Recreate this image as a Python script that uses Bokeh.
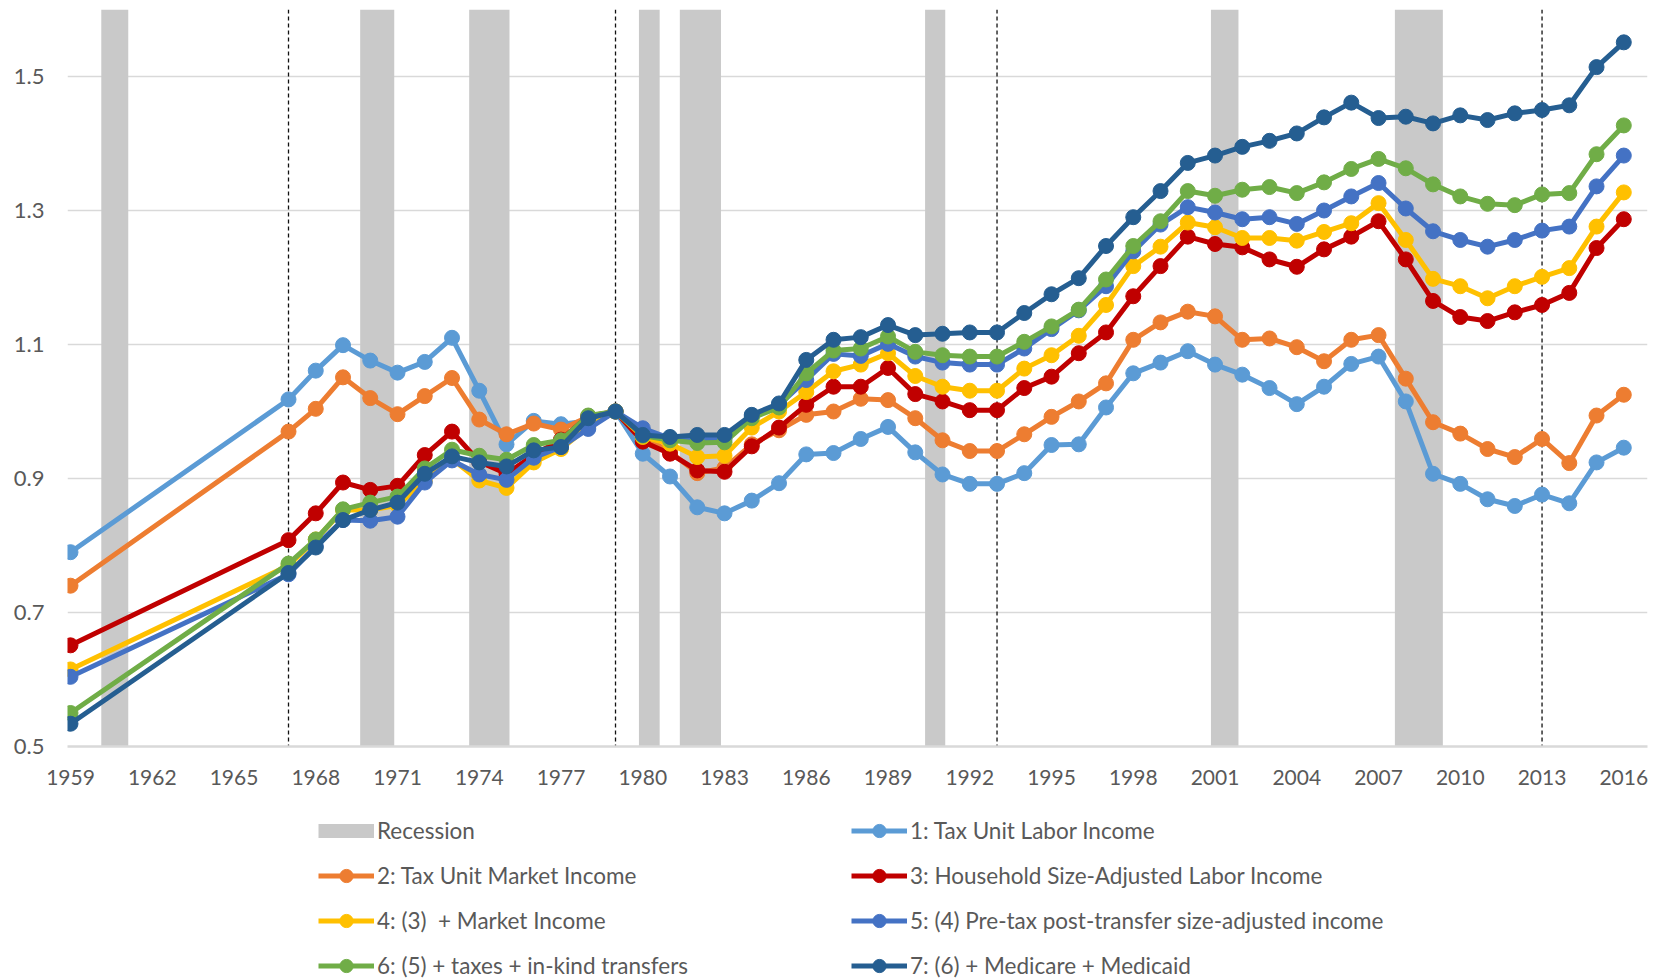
from bokeh.plotting import figure
from bokeh.layouts import column
from bokeh.models import Range1d, FixedTicker, Span, Legend, LegendItem, NumeralTickFormatter
from bokeh.embed import file_html
from bokeh.resources import INLINE

# ---------------- data ----------------
years = [1959, 1967, 1968, 1969, 1970, 1971, 1972, 1973, 1974, 1975, 1976, 1977, 1978,
         1979, 1980, 1981, 1982, 1983, 1984, 1985, 1986, 1987, 1988, 1989, 1990, 1991,
         1992, 1993, 1994, 1995, 1996, 1997, 1998, 1999, 2000, 2001, 2002, 2003, 2004,
         2005, 2006, 2007, 2008, 2009, 2010, 2011, 2012, 2013, 2014, 2015, 2016]

s1_tax_unit_labor = [0.790, 1.018, 1.061, 1.099, 1.076, 1.058, 1.074, 1.110, 1.031, 0.951, 0.986, 0.981, 0.986,
                     1.000, 0.937, 0.903, 0.857, 0.848, 0.867, 0.893, 0.936, 0.938, 0.959, 0.977, 0.939, 0.906,
                     0.892, 0.892, 0.908, 0.950, 0.951, 1.006, 1.057, 1.073, 1.090, 1.070, 1.055, 1.035, 1.011,
                     1.037, 1.071, 1.082, 1.015, 0.907, 0.892, 0.869, 0.859, 0.876, 0.863, 0.924, 0.946]
s2_tax_unit_market = [0.740, 0.970, 1.004, 1.051, 1.020, 0.996, 1.023, 1.050, 0.988, 0.966, 0.982, 0.973, 0.992,
                      1.000, 0.962, 0.940, 0.908, 0.916, 0.951, 0.972, 0.995, 1.000, 1.019, 1.017, 0.990, 0.957,
                      0.941, 0.941, 0.966, 0.992, 1.015, 1.042, 1.107, 1.133, 1.149, 1.142, 1.107, 1.109, 1.096,
                      1.075, 1.107, 1.114, 1.049, 0.984, 0.967, 0.944, 0.932, 0.959, 0.923, 0.994, 1.025]
s3_hh_size_adj_labor = [0.651, 0.808, 0.848, 0.894, 0.883, 0.889, 0.935, 0.970, 0.925, 0.907, 0.935, 0.958, 0.993,
                        1.000, 0.955, 0.937, 0.912, 0.910, 0.948, 0.976, 1.010, 1.037, 1.037, 1.065, 1.026, 1.015,
                        1.002, 1.002, 1.035, 1.052, 1.087, 1.118, 1.172, 1.217, 1.261, 1.250, 1.245, 1.227, 1.216,
                        1.242, 1.261, 1.284, 1.227, 1.165, 1.141, 1.135, 1.148, 1.159, 1.177, 1.244, 1.287]
s4_plus_market = [0.615, 0.770, 0.809, 0.853, 0.853, 0.860, 0.896, 0.929, 0.897, 0.886, 0.924, 0.944, 0.977,
                  1.000, 0.962, 0.952, 0.932, 0.934, 0.976, 1.000, 1.029, 1.060, 1.070, 1.087, 1.053, 1.037,
                  1.031, 1.031, 1.064, 1.084, 1.113, 1.159, 1.217, 1.246, 1.282, 1.275, 1.259, 1.259, 1.255,
                  1.268, 1.281, 1.311, 1.256, 1.198, 1.187, 1.169, 1.187, 1.201, 1.214, 1.276, 1.327]
s5_pretax_post_transfer = [0.604, 0.757, 0.799, 0.838, 0.837, 0.843, 0.894, 0.927, 0.906, 0.898, 0.931, 0.947, 0.974,
                           1.000, 0.975, 0.960, 0.959, 0.959, 0.993, 1.010, 1.047, 1.086, 1.083, 1.101, 1.082, 1.073,
                           1.070, 1.070, 1.094, 1.123, 1.151, 1.187, 1.239, 1.279, 1.305, 1.297, 1.287, 1.290, 1.280,
                           1.300, 1.321, 1.341, 1.303, 1.269, 1.256, 1.246, 1.256, 1.270, 1.276, 1.336, 1.382]
s6_taxes_in_kind = [0.550, 0.773, 0.809, 0.854, 0.864, 0.873, 0.915, 0.943, 0.934, 0.928, 0.950, 0.957, 0.994,
                    1.000, 0.964, 0.957, 0.953, 0.954, 0.990, 1.006, 1.057, 1.091, 1.094, 1.112, 1.089, 1.084,
                    1.082, 1.082, 1.104, 1.127, 1.152, 1.197, 1.247, 1.284, 1.329, 1.322, 1.331, 1.335, 1.326,
                    1.342, 1.362, 1.377, 1.363, 1.339, 1.321, 1.310, 1.308, 1.324, 1.326, 1.384, 1.427]
s7_medicare_medicaid = [0.534, 0.759, 0.797, 0.838, 0.853, 0.864, 0.907, 0.933, 0.924, 0.918, 0.942, 0.947, 0.990,
                        1.000, 0.965, 0.962, 0.965, 0.965, 0.995, 1.012, 1.077, 1.107, 1.111, 1.129, 1.114, 1.116,
                        1.118, 1.118, 1.147, 1.175, 1.199, 1.247, 1.290, 1.329, 1.371, 1.382, 1.395, 1.404, 1.415,
                        1.439, 1.461, 1.438, 1.440, 1.430, 1.442, 1.435, 1.445, 1.450, 1.457, 1.514, 1.551]

series_labels = ["1: Tax Unit Labor Income",
                 "2: Tax Unit Market Income",
                 "3: Household Size-Adjusted Labor Income",
                 "4: (3)  + Market Income",
                 "5: (4) Pre-tax post-transfer size-adjusted income",
                 "6: (5) + taxes + in-kind transfers",
                 "7: (6) + Medicare + Medicaid"]
series_colors = ["#5B9BD5", "#ED7D31", "#C00000", "#FFC000", "#4472C4", "#70AD47", "#255E91"]
series_values = [s1_tax_unit_labor, s2_tax_unit_market, s3_hh_size_adj_labor, s4_plus_market,
                 s5_pretax_post_transfer, s6_taxes_in_kind, s7_medicare_medicaid]

recession_start = [1960.13, 1969.63, 1973.63, 1979.86, 1981.36, 1990.36, 2000.85, 2007.60]
recession_end = [1961.12, 1970.88, 1975.11, 1980.62, 1982.87, 1991.10, 2001.86, 2009.36]
recession_label = "Recession"

dashed_years = [1967, 1979, 1993, 2013]

x_ticks = [1959, 1962, 1965, 1968, 1971, 1974, 1977, 1980, 1983, 1986, 1989, 1992,
           1995, 1998, 2001, 2004, 2007, 2010, 2013, 2016]
y_ticks = [0.5, 0.7, 0.9, 1.1, 1.3, 1.5]

# ---------------- styles ----------------
FONT = "Lato"
TXT = "#595959"
GRID = "#D9D9D9"
REC = "#C9C9C9"
Y_MIN, Y_MAX = 0.5, 1.6
LW = 5
MS = 15
TOTAL_W = 1655

p = figure(frame_width=1580, frame_height=737,
           min_border_left=67, min_border_right=TOTAL_W - 67 - 1580, min_border_top=9, min_border_bottom=49,
           x_range=Range1d(1958.89, 2016.87), y_range=Range1d(Y_MIN, Y_MAX),
           output_backend="svg", toolbar_location=None, background_fill_color="white",
           border_fill_color="white")
p.outline_line_color = None

# recession bars
p.quad(left=recession_start, right=recession_end, bottom=Y_MIN, top=Y_MAX,
       fill_color=REC, line_color=None)

# dashed reference lines
for yr in dashed_years:
    p.add_layout(Span(location=yr, dimension="height", line_color="#111111",
                      line_width=1.3, line_dash="4 3", level="underlay"))

for vals, col in zip(series_values, series_colors):
    p.line(years, vals, line_color=col, line_width=LW)
    p.scatter(years, vals, size=MS, marker="circle", fill_color=col, line_color=col)

# axes
p.xaxis.ticker = FixedTicker(ticks=x_ticks)
p.xaxis.formatter = NumeralTickFormatter(format="0")
p.yaxis.ticker = FixedTicker(ticks=y_ticks)
p.yaxis.formatter = NumeralTickFormatter(format="0.0")
for ax in (p.xaxis, p.yaxis):
    ax.major_tick_line_color = None
    ax.minor_tick_line_color = None
    ax.major_tick_out = 0
    ax.major_tick_in = 0
    ax.major_label_text_font = FONT
    ax.major_label_text_color = TXT
p.xaxis.major_label_text_font_size = "21px"
p.yaxis.major_label_text_font_size = "22px"
p.yaxis.axis_line_color = None
p.yaxis.major_label_standoff = 23
p.xaxis.axis_line_color = GRID
p.xaxis.axis_line_width = 2.5
p.xaxis.major_label_standoff = 23

p.xgrid.grid_line_color = None
p.ygrid.grid_line_color = GRID
p.ygrid.grid_line_width = 1.5

# ---------------- legend panel ----------------
# The legend sits in its own strip below the chart; its renderers carry the same
# series data, which falls outside this strip's ranges, so only the legend shows.
LEG_H = 185
pl = figure(width=TOTAL_W, height=LEG_H, min_border=0, x_range=Range1d(0, 1), y_range=Range1d(0, 1),
            x_axis_type=None, y_axis_type=None, output_backend="svg", toolbar_location=None)
pl.outline_line_color = None
pl.grid.visible = False

rec_leg = pl.segment(x0=recession_start, y0=Y_MIN, x1=recession_end, y1=Y_MIN,
                     line_color=REC, line_width=14)
leg_r = []
for vals, col in zip(series_values, series_colors):
    ln = pl.line(years, vals, line_color=col, line_width=LW)
    sc = pl.scatter(years, vals, marker="circle", fill_color=col, line_color=col)
    leg_r.append([ln, sc])

legend_style = dict(orientation="vertical", glyph_width=56, glyph_height=33, spacing=12,
                    label_standoff=3, label_text_font=FONT, label_text_font_size="22.5px",
                    label_text_color=TXT, border_line_color=None, background_fill_alpha=0,
                    padding=0, margin=0, label_height=22)

leg_a = Legend(items=[LegendItem(label=recession_label, renderers=[rec_leg]),
                      LegendItem(label=series_labels[1], renderers=leg_r[1]),
                      LegendItem(label=series_labels[3], renderers=leg_r[3]),
                      LegendItem(label=series_labels[5], renderers=leg_r[5])],
               location=(251, -2), **legend_style)
leg_b = Legend(items=[LegendItem(label=series_labels[0], renderers=leg_r[0]),
                      LegendItem(label=series_labels[2], renderers=leg_r[2]),
                      LegendItem(label=series_labels[4], renderers=leg_r[4]),
                      LegendItem(label=series_labels[6], renderers=leg_r[6])],
               location=(784, -2), **legend_style)
pl.add_layout(leg_a)
pl.add_layout(leg_b)

open("out.html", "w").write(file_html(column(p, pl, spacing=0), INLINE))
